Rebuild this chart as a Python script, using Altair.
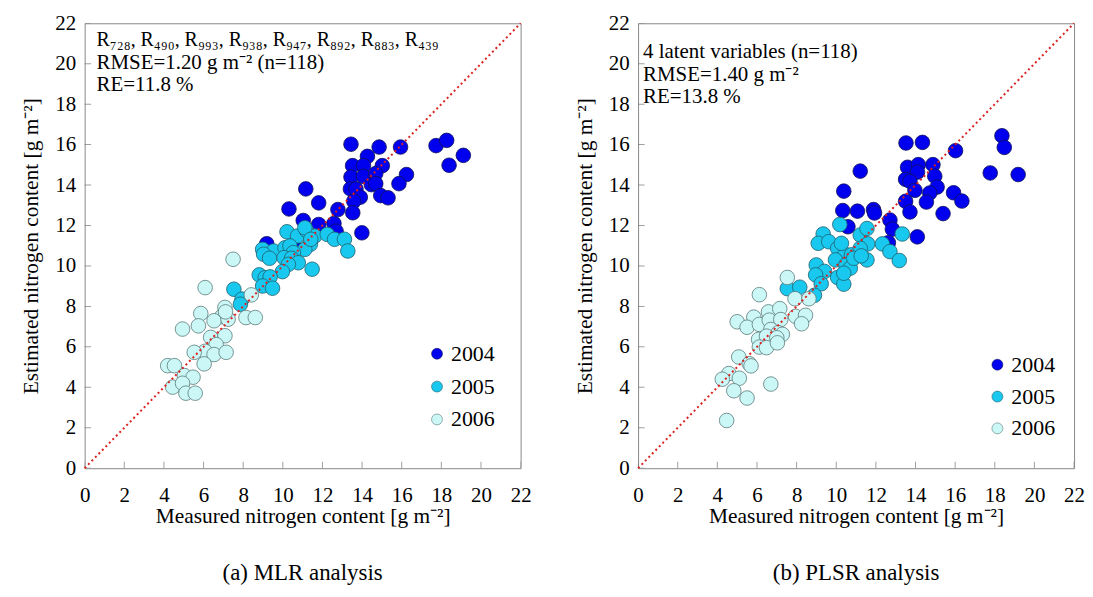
import altair as alt
import pandas as pd

years = ["2004", "2005", "2006"]
colors = ["#0000EE", "#18C8EE", "#CCF7F7"]
strokes = ["#10105A", "#20606E", "#5A7A7A"]
ticks = list(range(0, 23, 2))

# ---- (a) MLR ----
mlr_04_x = [13.44, 14.86, 15.94, 17.73, 18.27, 19.11, 18.39, 14.27, 13.52, 14.07, 15.02, 13.44, 14.07, 14.69,
            16.24, 14.47, 14.69, 15.86, 13.41, 13.69, 11.16, 13.91, 13.58, 14.94, 15.31, 11.81, 10.31, 12.78,
            13.53, 11.03, 11.81, 12.58, 12.69, 13.99, 9.19, 10.6]
mlr_04_y = [16.02, 15.88, 15.88, 15.95, 16.21, 15.47, 14.98, 15.42, 14.96, 14.96, 14.96, 14.40, 14.43, 14.57,
            14.52, 14.02, 14.07, 14.07, 13.81, 13.81, 13.81, 13.40, 13.20, 13.48, 13.37, 13.12, 12.82, 12.79,
            12.63, 12.25, 12.05, 12.10, 11.72, 11.64, 11.10, 10.9]
mlr_05_x = [10.21, 10.74, 11.19, 11.61, 12.24, 12.61, 13.11, 13.28, 11.39, 11.11, 8.98, 9.53, 9.03, 9.33,
            10.11, 10.36, 10.53, 10.06, 10.44, 10.78, 10.28, 9.98, 11.48, 8.81, 9.11, 9.36, 8.98, 9.48,
            7.53, 7.94, 7.86, 11.11, 11.41]
mlr_05_y = [11.69, 11.48, 11.76, 11.48, 11.56, 11.32, 11.32, 10.74, 11.07, 10.82, 10.82, 10.74, 10.58, 10.38,
            10.90, 10.99, 10.66, 10.41, 10.38, 10.16, 10.08, 9.72, 9.84, 9.56, 9.42, 9.46, 9.01, 8.90,
            8.85, 8.36, 8.11, 11.89, 11.32]
mlr_06_x = [7.49, 6.08, 8.41, 7.08, 5.86, 6.91, 6.53, 7.24, 8.14, 8.61, 5.74, 4.94, 6.36, 7.08, 6.64, 6.08,
            5.53, 6.53, 7.14, 6.03, 4.19, 4.53, 5.03, 5.47, 4.44, 4.94, 5.11, 5.58, 7.11]
mlr_06_y = [10.33, 8.93, 8.57, 7.95, 7.65, 7.49, 7.29, 7.37, 7.45, 7.45, 7.04, 6.88, 6.47, 6.55, 6.11, 5.78,
            5.73, 5.62, 5.73, 5.16, 5.07, 5.07, 4.58, 4.50, 4.01, 4.20, 3.71, 3.71, 7.73]

# ---- (b) PLSR ----
pls_04_x = [13.52, 14.35, 18.36, 18.48, 16.02, 17.77, 19.18, 11.21, 13.60, 14.14, 14.88, 14.10, 14.97, 13.50,
            13.72, 10.38, 13.97, 15.09, 14.72, 15.92, 16.34, 13.50, 14.55, 13.72, 15.39, 10.33, 11.07, 11.88,
            11.93, 12.71, 12.83, 10.59, 14.09, 12.63]
pls_04_y = [16.08, 16.11, 16.44, 15.86, 15.70, 14.60, 14.52, 14.69, 14.88, 15.01, 15.01, 14.64, 14.44, 14.28,
            14.19, 13.70, 13.74, 13.90, 13.61, 13.62, 13.21, 13.20, 13.16, 12.67, 12.59, 12.74, 12.71, 12.79,
            12.62, 12.27, 11.82, 11.94, 11.44, 11.15]
pls_05_x = [10.18, 9.34, 9.09, 9.62, 11.21, 11.55, 11.59, 12.33, 12.71, 13.18, 13.33, 10.07, 10.44, 10.77,
            11.21, 9.96, 10.49, 10.71, 11.55, 8.99, 9.41, 8.96, 10.07, 9.24, 10.38, 7.53, 8.16, 8.90,
            10.26, 10.88, 11.26, 10.38]
pls_05_y = [12.05, 11.58, 11.12, 11.20, 11.53, 11.85, 11.09, 11.09, 10.71, 10.27, 11.58, 10.87, 10.58, 10.55,
            10.87, 10.30, 10.05, 9.89, 10.30, 10.05, 9.73, 9.56, 9.43, 9.12, 9.10, 8.88, 8.95, 8.55,
            11.12, 10.38, 10.50, 9.64]
pls_06_x = [7.53, 6.12, 7.92, 8.62, 6.58, 7.15, 5.84, 5.00, 5.50, 6.12, 6.62, 7.20, 7.95, 8.45, 8.25, 6.70,
            7.08, 7.28, 6.08, 6.48, 7.00, 6.12, 6.48, 7.03, 5.08, 5.61, 5.70, 4.58, 5.11, 4.25, 6.70, 4.83,
            5.50, 4.47]
pls_06_y = [9.43, 8.58, 8.38, 8.38, 7.73, 7.89, 7.47, 7.24, 6.97, 7.11, 7.32, 7.35, 7.51, 7.56, 7.14, 6.86,
            6.70, 6.62, 6.37, 6.53, 6.45, 5.99, 5.96, 6.20, 5.50, 5.17, 5.06, 4.68, 4.45, 4.40, 4.16, 3.83,
            3.47, 2.36]

mlr_notes = ["R\u2087\u2082\u2088, R\u2084\u2089\u2080, R\u2089\u2089\u2083, R\u2089\u2083\u2088, R\u2089\u2084\u2087, R\u2088\u2089\u2082, R\u2088\u2088\u2083, R\u2084\u2083\u2089",
             "RMSE=1.20 g m\u207b\u00b2 (n=118)",
             "RE=11.8 %"]
pls_notes = ["4 latent variables (n=118)",
             "RMSE=1.40 g m\u207b\u00b2",
             "RE=13.8 %"]

FONT = "Liberation Serif"
W, H = 438, 447
LINE = 22.5


def frame(xs_list, ys_list):
    rows = []
    for yr, xs, ys in zip(years, xs_list, ys_list):
        for a, b in zip(xs, ys):
            rows.append({"measured": a, "estimated": b, "year": yr})
    return pd.DataFrame(rows)


def panel(df, notes, note_x, note_y, first_size, caption, lx, ly, rowpad):
    xsc = alt.Scale(domain=[0, 22], nice=False, zero=False)
    ysc = alt.Scale(domain=[0, 22], nice=False, zero=False)
    common = dict(values=ticks, labelOverlap=False, labelFlush=False, labelFont=FONT, labelFontSize=21,
                  labelColor="black", titleFont=FONT, titleFontSize=21.5, titleFontWeight="normal",
                  titleColor="black", grid=False, domain=False, ticks=False)
    xax = alt.Axis(labelPadding=16, titlePadding=1,
                   title="Measured nitrogen content [g m\u207b\u00b2]", **common)
    yax = alt.Axis(labelPadding=9, titlePadding=12,
                   title="Estimated nitrogen content [g m\u207b\u00b2]", **common)
    X = lambda: alt.X("measured:Q", scale=xsc, axis=xax)
    Y = lambda: alt.Y("estimated:Q", scale=ysc, axis=yax)
    pts = alt.Chart(df).mark_circle(size=215, opacity=1, strokeWidth=0.8).encode(
        x=X(), y=Y(),
        color=alt.Color("year:N", scale=alt.Scale(domain=years, range=colors),
                        legend=alt.Legend(orient="none", legendX=lx, legendY=ly, title=None,
                                          labelFont=FONT, labelFontSize=22, labelColor="black",
                                          symbolType="circle", symbolSize=120, symbolStrokeWidth=0.6,
                                          symbolStrokeColor="#6A8A8A", rowPadding=rowpad, labelOffset=3)),
        stroke=alt.Stroke("year:N", scale=alt.Scale(domain=years, range=strokes), legend=None),
    )
    diag_df = pd.DataFrame({"measured": [0, 22], "estimated": [0, 22]})
    diag = alt.Chart(diag_df).mark_line(color="#DD2020", strokeDash=[2, 3], strokeWidth=2).encode(
        x=X(), y=Y())
    tdf = pd.DataFrame({"measured": ticks, "estimated": [0] * len(ticks)})
    tdf2 = pd.DataFrame({"estimated": ticks, "measured": [0] * len(ticks)})
    xt = alt.Chart(tdf).mark_tick(orient="vertical", size=13, thickness=1, color="#777", clip=True).encode(
        x=X(), y=Y())
    yt = alt.Chart(tdf2).mark_tick(orient="horizontal", size=13, thickness=1, color="#777", clip=True).encode(
        x=X(), y=Y())
    one = pd.DataFrame({"k": [0]})
    txt1 = alt.Chart(one).mark_text(
        text=notes[0], align="left", baseline="middle", font=FONT, fontSize=first_size,
        color="black").encode(x=alt.value(note_x), y=alt.value(note_y))
    txt2 = alt.Chart(one).mark_text(
        text=notes[1], align="left", baseline="middle", font=FONT, fontSize=21,
        color="black").encode(x=alt.value(note_x), y=alt.value(note_y + LINE))
    txt3 = alt.Chart(one).mark_text(
        text=notes[2], align="left", baseline="middle", font=FONT, fontSize=21,
        color="black").encode(x=alt.value(note_x), y=alt.value(note_y + 2 * LINE))
    return alt.layer(pts, xt, yt, diag, txt1, txt2, txt3).properties(
        width=W, height=H,
        title=alt.TitleParams(caption, orient="bottom", font=FONT, fontSize=23, fontWeight="normal",
                              color="black", anchor="middle", frame="group", offset=35))


left = panel(frame([mlr_04_x, mlr_05_x, mlr_06_x], [mlr_04_y, mlr_05_y, mlr_06_y]),
             mlr_notes, 12, 17, 20, "(a) MLR analysis", 343, 321, 11)
right = panel(frame([pls_04_x, pls_05_x, pls_06_x], [pls_04_y, pls_05_y, pls_06_y]),
              pls_notes, 5, 29, 21, "(b) PLSR analysis", 350, 332, 10)

chart = alt.hconcat(left, right, spacing=42).resolve_scale(color="independent", stroke="independent") \
    .resolve_legend(color="independent").configure_view(stroke="#888", strokeWidth=1) \
    .configure_axis(grid=False, domain=False, ticks=False, labelFont=FONT, labelFontSize=21,
                    labelColor="black", titleFont=FONT, titleFontSize=21.5, titleFontWeight="normal",
                    titleColor="black", labelOverlap=False) \
    .properties(padding={"left": 12, "top": 2, "right": 0, "bottom": 0}, background="white")

chart.save("out.html", embed_options={"renderer": "svg", "actions": False})
